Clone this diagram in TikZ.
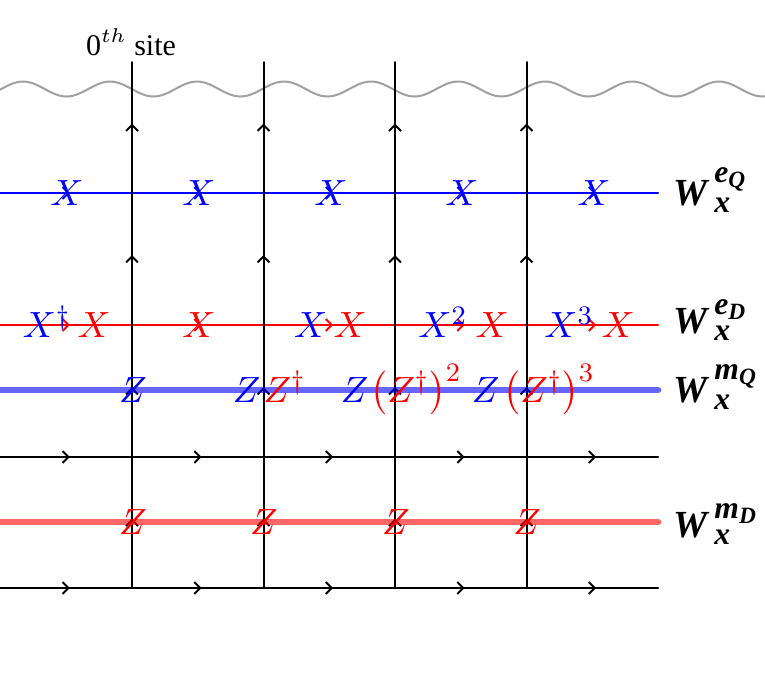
\documentclass[tikz,border=0pt]{standalone}
\usepackage{amsmath}
\usepackage{fontspec}
\newfontfamily\serifA{Liberation Serif}
\DeclareMathSizes{11.5}{11.5}{9.5}{7}
\newcommand{\lbi}[1]{\text{\serifA\bfseries\itshape #1}}
\newcommand{\wlab}[3]{$\lbi{W}\kern2pt^{\lbi{#1}_{\lbi{#2}}}_{\lbi{#3}}$}
\usetikzlibrary{arrows.meta,decorations.markings}
\definecolor{wavegray}{RGB}{160,160,160}
\tikzset{
  lat/.style={line width=0.6pt, line cap=round},
  midarrow/.style={postaction={decorate}, decoration={markings,
      mark=at position 0.53 with {\arrow{Straight Barb[length=1.8pt,width=3.6pt]}}}},
  dualline/.style={line width=2pt, line cap=round, draw opacity=0.6},
  lbl/.style={inner sep=0pt, font=\fontsize{11}{13}\selectfont},
  bx/.style={lbl, text=blue},
  rx/.style={lbl, text=red},
  wlabel/.style={inner sep=0pt, anchor=base west, font=\fontsize{11.5}{14}\selectfont},
}
\begin{document}
\begin{tikzpicture}[x=0.3pt,y=-0.3pt]
\useasboundingbox (0,0) rectangle (765,675);
% lattice points
\foreach \i/\x in {1/132,2/263.5,3/395,4/526.5}{
  \foreach \j/\y in {0/62,1/193,2/325,3/457,4/588}{
    \coordinate (p\i\j) at (\x,\y);
  }
}
\foreach \j/\y in {1/193,2/325,3/457,4/588}{
  \coordinate (L\j) at (0,\y);
  \coordinate (R\j) at (658,\y);
}
\coordinate (Lq) at (0,390);   \coordinate (Rq) at (658,390);
\coordinate (Ld) at (0,522);   \coordinate (Rd) at (658,522);
% wave
\draw[wavegray, line width=0.6pt] plot[domain=0:765, samples=220, smooth]
  (\x, {89 - 7.5*cos(4.13793*(\x-23))});
% horizontal lattice rows
\foreach \j/\c in {1/blue,2/red,3/black,4/black}{
  \draw[lat,midarrow,\c] (L\j) -- (p1\j);
  \draw[lat,midarrow,\c] (p1\j) -- (p2\j);
  \draw[lat,midarrow,\c] (p2\j) -- (p3\j);
  \draw[lat,midarrow,\c] (p3\j) -- (p4\j);
  \draw[lat,midarrow,\c] (p4\j) -- (R\j);
}
% vertical lattice lines
\foreach \i in {1,2,3,4}{
  \foreach \a/\b in {1/0,2/1,3/2,4/3}{
    \draw[lat,midarrow,black] (p\i\a) -- (p\i\b);
  }
}
% dual thick lines
\draw[dualline, blue] (Lq) -- (Rq);
\draw[dualline, red] (Ld) -- (Rd);
% top label
\node[inner sep=0pt, font=\serifA\fontsize{9}{11}\selectfont] (site) at (131,42) {0$^{th}$ site};
% e_Q row
\foreach \k/\x in {1/67,2/199,3/331,4/462,5/594}{
  \node[bx] (eq\k) at (\x,193) {$X$};
}
% e_D row
\node[bx, anchor=base east] (ed1b) at (71,337.5) {$X^{\dagger}$};
\node[rx, anchor=base west] (ed1r) at (77,337.5) {$X$};
\node[rx, anchor=base] (ed2r) at (199,337.5) {$X$};
\node[bx, anchor=base east] (ed3b) at (328,337.5) {$X$};
\node[rx, anchor=base west] (ed3r) at (333,337.5) {$X$};
\node[bx, anchor=base east] (ed4b) at (468,337.5) {$X^{2}$};
\node[rx, anchor=base west] (ed4r) at (475,337.5) {$X$};
\node[bx, anchor=base east] (ed5b) at (594,337.5) {$X^{3}$};
\node[rx, anchor=base west] (ed5r) at (601,337.5) {$X$};
% m_Q row
\node[bx, anchor=base] (mq1) at (133,402.5) {$Z$};
\node[bx, anchor=base east] (mq2b) at (261,402.5) {$Z$};
\node[rx, anchor=base west] (mq2r) at (263,402.5) {$Z^{\dagger}$};
\node[bx, anchor=base east] (mq3b) at (369,402.5) {$Z$};
\node[rx, anchor=base west] (mq3r) at (370,402.5) {$\left(Z^{\dagger}\right)^{2}$};
\node[bx, anchor=base east] (mq4b) at (500,402.5) {$Z$};
\node[rx, anchor=base west] (mq4r) at (503,402.5) {$\left(Z^{\dagger}\right)^{3}$};
% m_D row
\foreach \k/\x in {1/133,2/264,3/396,4/527}{
  \node[rx, anchor=base] (md\k) at (\x,534.5) {$Z$};
}
% right labels
\node[wlabel] (WeQ) at (673,205) {\wlab{e}{Q}{x}};
\node[wlabel] (WeD) at (673,333) {\wlab{e}{D}{x}};
\node[wlabel] (WmQ) at (673,402) {\wlab{m}{Q}{x}};
\node[wlabel] (WmD) at (673,537) {\wlab{m}{D}{x}};
\end{tikzpicture}
\end{document}
